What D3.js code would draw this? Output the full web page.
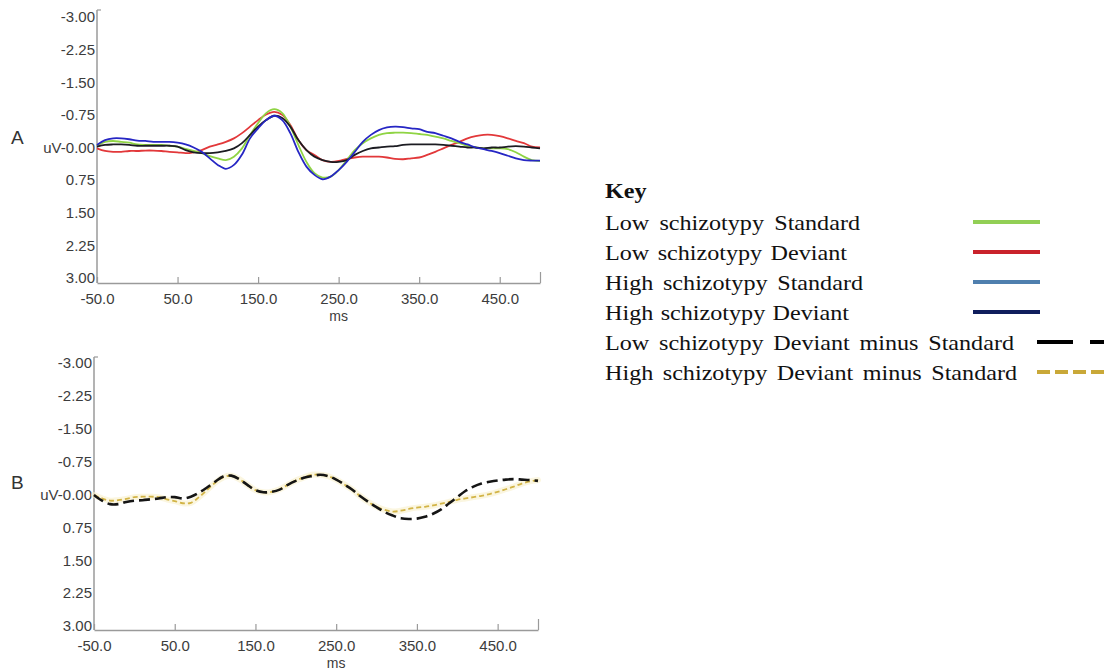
<!DOCTYPE html>
<html><head><meta charset="utf-8">
<script src="https://cdn.jsdelivr.net/npm/d3@7"></script>
<style>body{margin:0;background:#fff}svg{display:block}</style>
</head><body>
<svg id="chart" width="1112" height="671"></svg>
<script>
// ---- data ----
const timesMs = [-50,-40,-30,-20,-10,0,10,20,30,40,50,60,70,80,90,100,110,120,130,140,150,160,170,180,190,200,210,220,230,240,250,260,270,280,290,300,310,320,330,340,350,360,370,380,390,400,410,420,430,440,450,460,470,480,490,500];
const lowStandard = [-0.04,-0.13,-0.15,-0.13,-0.11,-0.07,-0.06,-0.06,-0.06,-0.04,-0.02,0.03,0.08,0.13,0.20,0.25,0.29,0.21,0.02,-0.29,-0.56,-0.79,-0.88,-0.79,-0.48,-0.06,0.33,0.59,0.69,0.67,0.52,0.29,0.06,-0.10,-0.21,-0.29,-0.33,-0.34,-0.34,-0.33,-0.31,-0.29,-0.25,-0.21,-0.15,-0.10,-0.04,0.00,0.02,0.02,0.02,0.04,0.11,0.21,0.29,0.31];
const lowDeviant = [0.02,0.08,0.10,0.10,0.08,0.08,0.07,0.07,0.08,0.10,0.11,0.13,0.11,0.06,-0.02,-0.07,-0.13,-0.21,-0.33,-0.48,-0.63,-0.76,-0.82,-0.75,-0.52,-0.17,0.06,0.17,0.29,0.33,0.31,0.26,0.23,0.21,0.21,0.21,0.23,0.26,0.27,0.25,0.23,0.17,0.10,0.02,-0.06,-0.13,-0.21,-0.26,-0.29,-0.29,-0.26,-0.21,-0.15,-0.10,-0.02,0.00];
const highStandard = [-0.06,-0.17,-0.21,-0.21,-0.19,-0.16,-0.15,-0.13,-0.13,-0.13,-0.11,-0.07,0.00,0.10,0.25,0.40,0.49,0.40,0.16,-0.21,-0.44,-0.63,-0.73,-0.63,-0.33,0.10,0.44,0.63,0.73,0.67,0.52,0.33,0.10,-0.13,-0.29,-0.40,-0.46,-0.48,-0.47,-0.44,-0.42,-0.36,-0.33,-0.27,-0.21,-0.13,-0.07,0.00,0.04,0.08,0.13,0.19,0.25,0.29,0.30,0.30];
const highDeviant = [-0.02,-0.06,-0.07,-0.07,-0.06,-0.04,-0.04,-0.04,-0.04,-0.04,-0.02,0.06,0.11,0.13,0.13,0.11,0.08,0.02,-0.10,-0.29,-0.48,-0.63,-0.73,-0.68,-0.48,-0.17,0.06,0.21,0.29,0.33,0.33,0.29,0.17,0.08,0.02,0.00,-0.02,-0.03,-0.06,-0.07,-0.07,-0.07,-0.07,-0.06,-0.04,-0.02,0.00,0.00,0.02,0.00,0.00,-0.02,-0.03,-0.02,0.00,0.02];
const lowDiff = [0.01,0.14,0.22,0.22,0.17,0.14,0.13,0.11,0.09,0.06,0.06,0.09,0.05,-0.04,-0.16,-0.29,-0.41,-0.43,-0.35,-0.22,-0.10,-0.05,-0.06,-0.11,-0.22,-0.31,-0.38,-0.42,-0.45,-0.42,-0.34,-0.23,-0.11,0.04,0.17,0.29,0.40,0.48,0.54,0.56,0.55,0.51,0.44,0.34,0.20,0.06,-0.08,-0.18,-0.25,-0.29,-0.32,-0.34,-0.35,-0.34,-0.33,-0.31];
const highDiff = [0.01,0.09,0.14,0.13,0.10,0.06,0.05,0.05,0.06,0.11,0.15,0.20,0.19,0.06,-0.10,-0.27,-0.39,-0.43,-0.35,-0.22,-0.10,-0.05,-0.06,-0.12,-0.22,-0.32,-0.39,-0.45,-0.45,-0.42,-0.34,-0.23,-0.11,0.04,0.17,0.28,0.35,0.39,0.37,0.33,0.30,0.28,0.25,0.21,0.17,0.12,0.09,0.06,0.03,-0.01,-0.06,-0.12,-0.18,-0.25,-0.30,-0.33];

const xTickValues = [-50, 50, 150, 250, 350, 450];
const xTickLabels = ["-50.0", "50.0", "150.0", "250.0", "350.0", "450.0"];
const yTickValues = [-3, -2.25, -1.5, -0.75, 0, 0.75, 1.5, 2.25, 3];
const yTickLabels = ["-3.00", "-2.25", "-1.50", "-0.75", "uV-0.00", "0.75", "1.50", "2.25", "3.00"];
const panelLabels = ["A", "B"];
const xAxisTitle = "ms";
const legendTitle = "Key";
const legendLabels = [
  "Low schizotypy Standard",
  "Low schizotypy Deviant",
  "High schizotypy Standard",
  "High schizotypy Deviant",
  "Low schizotypy Deviant minus Standard",
  "High schizotypy Deviant minus Standard"
];
const legendColors = ["#92cf55", "#c9222b", "#4f7fae", "#0f1d5c", "#000000", "#c9a838"];

// ---- drawing ----
const svg = d3.select("#chart");
const axisColor = "#9a9a9a";
const textColor = "#3c3c3c";
const sans = "'Liberation Sans', Arial, sans-serif";

function drawPanel(cfg) {
  const g = svg.append("g");
  const x = d3.scaleLinear().domain([-50, 500]).range([cfg.x0, cfg.x1]);
  const y = d3.scaleLinear().domain([-3, 3]).range([cfg.yTop, cfg.yBot]);

  // y axis
  const ya = g.append("g").attr("transform", `translate(${cfg.x0},0)`)
    .call(d3.axisLeft(y).tickValues(yTickValues).tickSize(0).tickPadding(2)
      .tickFormat((d, i) => yTickLabels[i]));
  ya.select(".domain").remove();
  ya.selectAll("text").attr("fill", textColor).style("font-family", sans).style("font-size", "15px");
  g.append("line").attr("x1", cfg.x0).attr("x2", cfg.x0).attr("y1", cfg.axisTop).attr("y2", cfg.axisY)
    .attr("stroke", axisColor).attr("stroke-width", 1.5);
  g.append("line").attr("x1", cfg.x0).attr("x2", cfg.x0 + 4).attr("y1", cfg.axisTop).attr("y2", cfg.axisTop)
    .attr("stroke", axisColor).attr("stroke-width", 1.2);

  // x axis (ticks pointing up)
  const xa = g.append("g").attr("transform", `translate(0,${cfg.axisY})`)
    .call(d3.axisBottom(x).tickValues(xTickValues.concat([500])).tickSize(-6).tickSizeOuter(0).tickPadding(10)
      .tickFormat(d => { const k = xTickValues.indexOf(d); return k < 0 ? "" : xTickLabels[k]; }));
  xa.select(".domain").attr("stroke", axisColor).attr("stroke-width", 1.5);
  xa.selectAll(".tick line").attr("stroke", axisColor).attr("stroke-width", 1.2)
    .attr("y2", d => d === 500 ? -11 : -6);
  xa.selectAll("text").attr("fill", textColor).style("font-family", sans).style("font-size", "15px");
  g.append("text").attr("x", x(250)).attr("y", cfg.axisY + 38).attr("text-anchor", "middle")
    .attr("fill", textColor).style("font-family", sans).style("font-size", "14px")
    .text(xAxisTitle);

  // panel letter
  g.append("text").attr("x", 11).attr("y", cfg.labelY).attr("fill", "#333")
    .style("font-family", sans).style("font-size", "19px").text(cfg.label);

  const line = d3.line().x((d, i) => x(timesMs[i])).y(d => y(d)).curve(d3.curveCatmullRom.alpha(0.5));
  cfg.series.forEach(s => {
    if (s.halo) {
      g.append("path").attr("d", line(s.values)).attr("fill", "none")
        .attr("stroke", s.halo).attr("stroke-width", 6).attr("stroke-opacity", 0.6).attr("stroke-linecap", "round");
    }
    g.append("path").attr("d", line(s.values)).attr("fill", "none")
      .attr("stroke", s.color).attr("stroke-width", s.width)
      .attr("stroke-dasharray", s.dash || null)
      .attr("stroke-linejoin", "round");
  });
}

drawPanel({
  x0: 97, x1: 540, yTop: 17, yBot: 278, axisY: 283, axisTop: 10, labelY: 144, label: panelLabels[0],
  series: [
    { values: lowDeviant, color: "#e2383a", width: 1.8 },
    { values: lowStandard, color: "#8fd444", width: 1.8 },
    { values: highDeviant, color: "#1c1c22", width: 1.8 },
    { values: highStandard, color: "#2626c4", width: 1.8 }
  ]
});

drawPanel({
  x0: 94, x1: 538, yTop: 363, yBot: 626, axisY: 630, axisTop: 357, labelY: 489, label: panelLabels[1],
  series: [
    { values: highDiff, color: "#d2b447", width: 1.8, dash: "5,3", halo: "#f8f0cc" },
    { values: lowDiff, color: "#151515", width: 2.6, dash: "11,5" }
  ]
});

// ---- legend ----
const lg = svg.append("g");
const serif = "'Liberation Serif', 'Times New Roman', serif";
const sx = 1.15;
lg.append("text").attr("transform", `translate(605,198) scale(${sx},1)`)
  .style("font-family", serif).style("font-size", "21px").style("font-weight", "bold").attr("fill", "#111")
  .text(legendTitle);
const targetWidths = [255, 242, 258, 244, 409, 412];
legendLabels.forEach((lab, i) => {
  const base = 230 + i * 30;
  const t = lg.append("text").attr("transform", `translate(605,${base}) scale(${sx},1)`)
    .style("font-family", serif).style("font-size", "21px").attr("fill", "#111").text(lab);
  const nat = t.node().getComputedTextLength();
  const nSp = lab.split(" ").length - 1;
  const ws = (targetWidths[i] / sx - nat) / nSp;
  t.style("word-spacing", ws + "px");
  const ly = base - 8;
  if (i < 4) {
    lg.append("line").attr("x1", 973).attr("x2", 1040).attr("y1", ly).attr("y2", ly)
      .attr("stroke", legendColors[i]).attr("stroke-width", 4);
  } else {
    lg.append("line").attr("x1", 1037).attr("x2", 1104).attr("y1", ly).attr("y2", ly)
      .attr("stroke", legendColors[i]).attr("stroke-width", 4)
      .attr("stroke-dasharray", i === 4 ? "36,17" : "13,5");
  }
});
</script>
</body></html>
